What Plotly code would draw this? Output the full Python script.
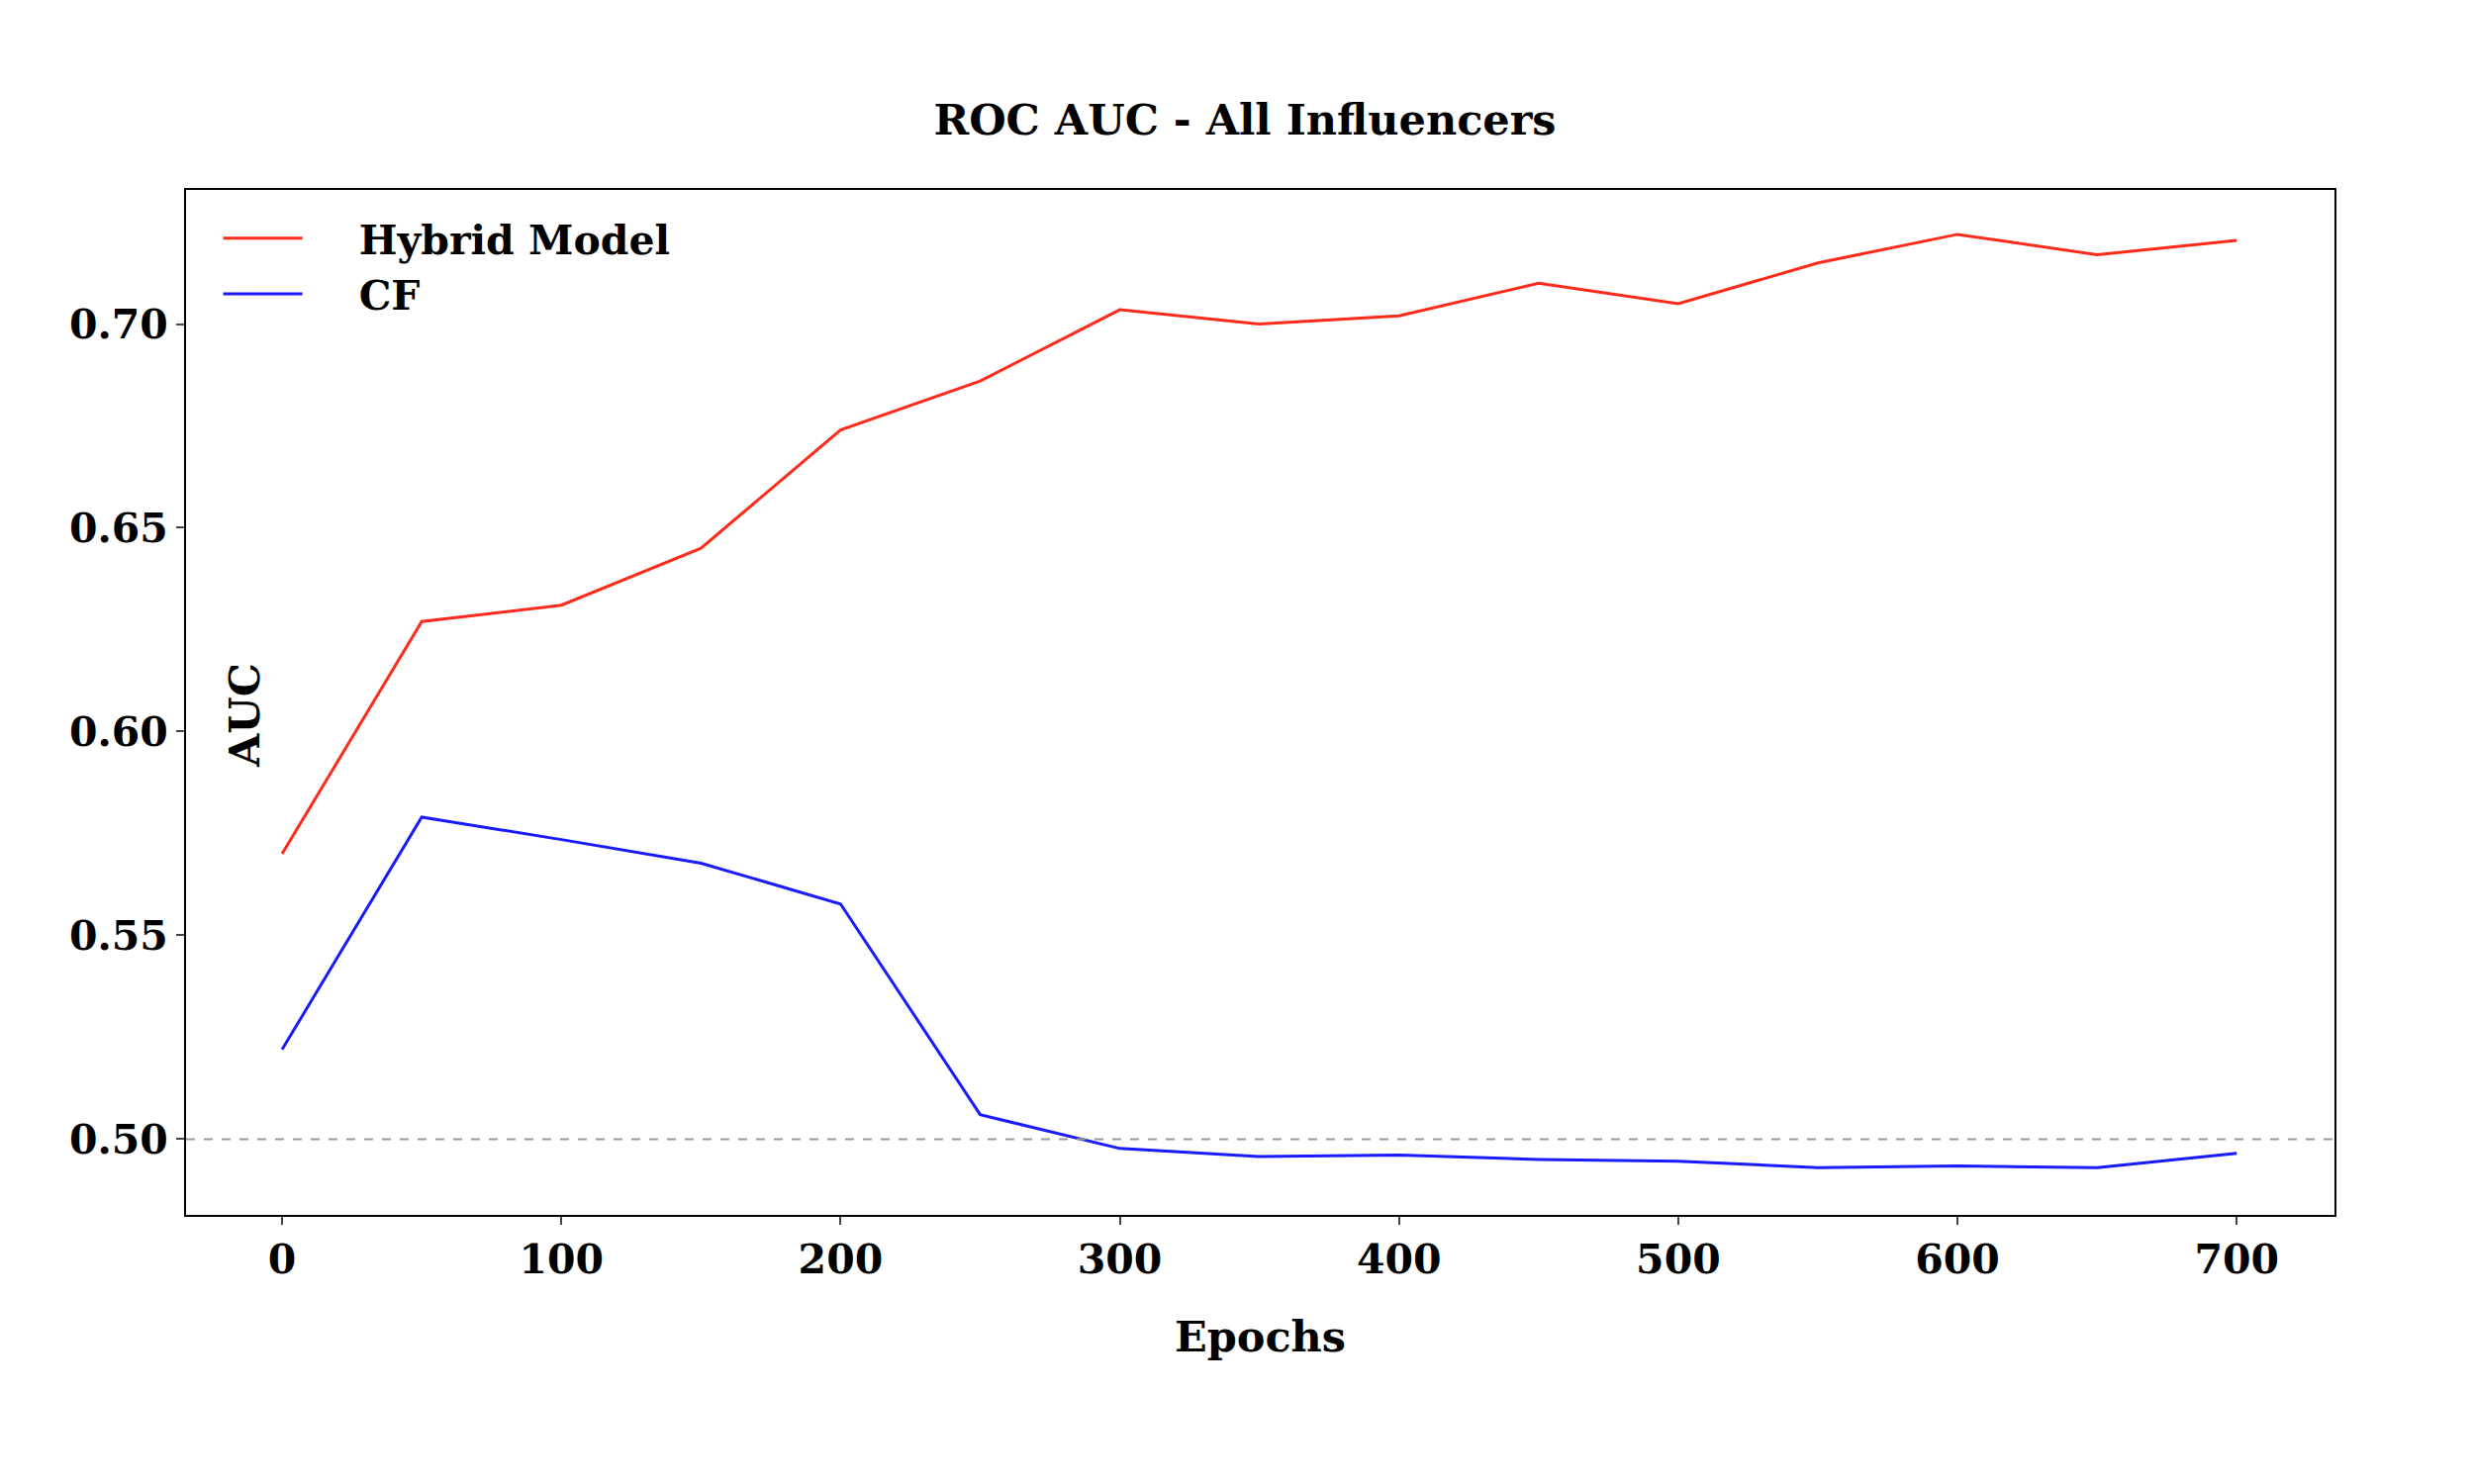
import plotly.graph_objects as go

epochs = [0, 50, 100, 150, 200, 250, 300, 350, 400, 450, 500, 550, 600, 650, 700]
hybrid = [0.570, 0.627, 0.631, 0.645, 0.674, 0.686, 0.7035, 0.700, 0.702, 0.710, 0.705, 0.715, 0.722, 0.717, 0.7205]
cf = [0.522, 0.579, 0.5735, 0.5677, 0.5577, 0.506, 0.4977, 0.4957, 0.4961, 0.495, 0.4946, 0.493, 0.4934, 0.493, 0.4965]

F = "DejaVu Serif"
fig = go.Figure()
fig.add_trace(go.Scatter(x=epochs, y=hybrid, mode="lines", name="Hybrid Model", line=dict(color="#ff2a1a", width=3)))
fig.add_trace(go.Scatter(x=epochs, y=cf, mode="lines", name="CF", line=dict(color="#1a1aff", width=3)))
fig.add_hline(y=0.5, line=dict(color="#999999", width=2, dash="dash"))

fig.update_layout(
    width=2500, height=1500, plot_bgcolor="white", paper_bgcolor="white",
    margin=dict(l=180, r=149, t=184, b=280),
    font=dict(family=F, size=41, color="black"),
    title=dict(text="<b>ROC AUC - All Influencers</b>", x=0.5, xanchor="center", y=0.925, yanchor="middle", font=dict(size=43)),
    showlegend=True,
    legend=dict(x=0.015, y=0.985, xanchor="left", yanchor="top", bgcolor="rgba(0,0,0,0)",
                font=dict(size=41), itemwidth=80),
    xaxis=dict(range=[-34.4, 735], tickvals=list(range(0, 701, 100)),
               ticktext=[f"<b>{v}</b>" for v in range(0, 701, 100)],
               showline=True, mirror=True, linecolor="black", linewidth=2,
               ticks="outside", ticklen=8, tickwidth=2, showgrid=False, zeroline=False,
               title=dict(text="<b>Epochs</b>", standoff=40, font=dict(size=43))),
    yaxis=dict(range=[0.4814, 0.7329], tickvals=[0.5, 0.55, 0.6, 0.65, 0.7],
               ticktext=["<b>0.50</b>", "<b>0.55</b>", "<b>0.60</b>", "<b>0.65</b>", "<b>0.70</b>"],
               showline=True, mirror=True, linecolor="black", linewidth=2,
               ticks="outside", ticklen=8, tickwidth=2, showgrid=False, zeroline=False),
)
fig.for_each_trace(lambda t: t.update(name=f"&nbsp;&nbsp;&nbsp;&nbsp;<b>{t.name}</b>"))
fig.add_annotation(text="<b>AUC</b>", x=0.015, y=0.487, xref="paper", yref="paper",
                   textangle=-90, showarrow=False, font=dict(size=43))
fig.write_html("out.html")
